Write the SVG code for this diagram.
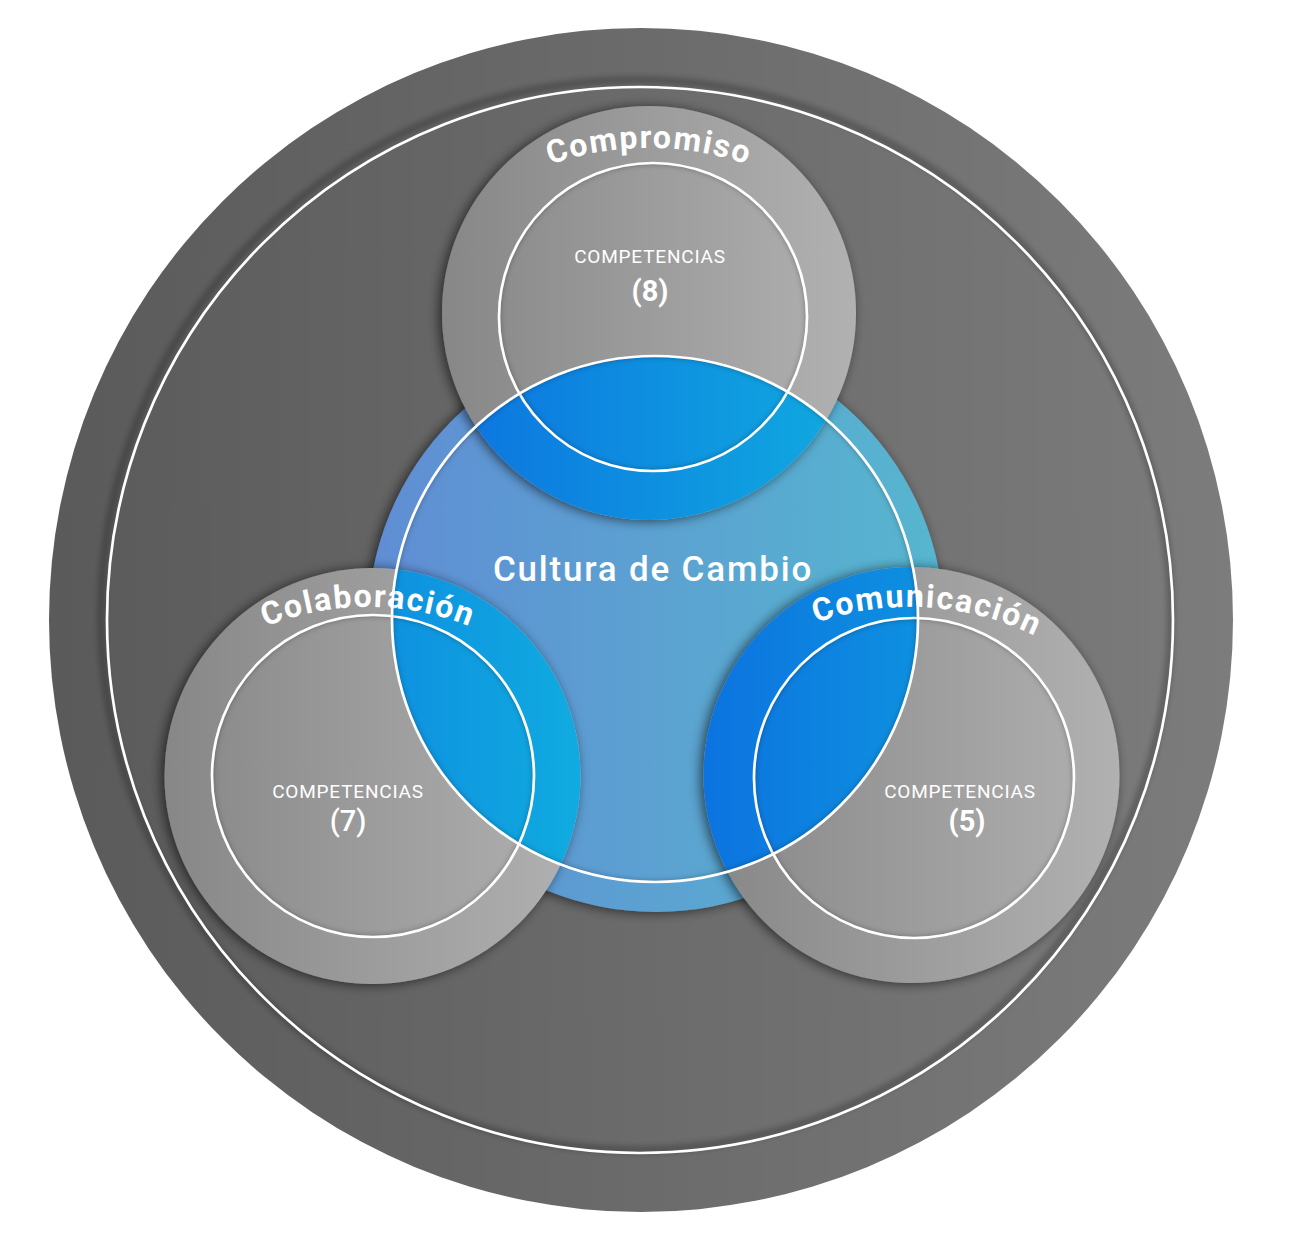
<svg xmlns="http://www.w3.org/2000/svg" xmlns:xlink="http://www.w3.org/1999/xlink" width="1291" height="1243" viewBox="0 0 1291 1243">
<style>
.lbl{font-family:Roboto,"Liberation Sans",Arial,sans-serif;fill:#fff}
.arc{font-size:32px;font-weight:700;letter-spacing:1.7px}
.comp{font-size:19px;font-weight:400;letter-spacing:0.8px}
.num{font-size:29px}
.ring{fill:none;stroke:#fff;stroke-width:2.7}
.ishadow{fill:none;stroke:#000;stroke-opacity:0.35;stroke-width:7;filter:url(#blur)}
.gray{fill:url(#gGray);filter:url(#drop)}
.bright{fill:url(#gBright)}
</style>
<defs>
<linearGradient id="gOuter" x1="0" y1="0" x2="1" y2="0"><stop offset="0" stop-color="#5a5a5a"/><stop offset="1" stop-color="#7c7c7c"/></linearGradient>
<linearGradient id="gBlue" x1="0" y1="0" x2="1" y2="0"><stop offset="0" stop-color="#5f8dd4"/><stop offset="1" stop-color="#57b6cf"/></linearGradient>
<linearGradient id="gGray" x1="0" y1="0" x2="1" y2="0"><stop offset="0" stop-color="#878787"/><stop offset="1" stop-color="#b2b1b1"/></linearGradient>
<linearGradient id="gBright" x1="0" y1="0" x2="1" y2="0"><stop offset="0" stop-color="#0c73e0"/><stop offset="1" stop-color="#10abe0"/></linearGradient>
<filter id="drop" x="-20%" y="-20%" width="140%" height="140%"><feDropShadow dx="-3" dy="1" stdDeviation="6" flood-color="#000" flood-opacity="0.6"/></filter>
<filter id="blur" x="-10%" y="-10%" width="120%" height="120%"><feGaussianBlur stdDeviation="3"/></filter>
<clipPath id="cRing"><circle cx="655" cy="619" r="263"/></clipPath>
<clipPath id="cTop"><circle cx="653" cy="317" r="154"/></clipPath>
<clipPath id="cLeft"><circle cx="373" cy="776" r="161"/></clipPath>
<clipPath id="cRight"><circle cx="914" cy="778" r="160"/></clipPath>
<clipPath id="cBig"><circle cx="641" cy="620" r="592"/></clipPath>
<path id="pTop" d="M 389.2 298 A 300 300 0 0 1 908.8 298"/>
<path id="pLeft" d="M 129.8 744.5 A 275 275 0 0 1 606.2 744.5"/>
<path id="pRight" d="M 664 749 A 284 284 0 0 1 1156 749"/>
</defs>

<g id="outer">
<circle cx="641" cy="620" r="592" fill="url(#gOuter)"/>
<circle cx="636" cy="615" r="535" fill="none" stroke="#000" stroke-opacity="0.3" stroke-width="6" filter="url(#blur)" clip-path="url(#cBig)"/>
<circle cx="640" cy="620" r="533" class="ring" stroke-width="2.2"/>
</g>

<g id="cultura-disk">
<circle cx="656" cy="624" r="288" fill="url(#gBlue)" filter="url(#drop)"/>
</g>

<g id="compromiso">
<circle cx="649" cy="313" r="207" class="gray"/>
<circle cx="649" cy="313" r="207" class="bright" clip-path="url(#cRing)"/>
<circle cx="653" cy="317" r="157" class="ishadow" clip-path="url(#cTop)"/>
<circle cx="653" cy="317" r="154" class="ring"/>
<text class="lbl arc"><textPath href="#pTop" xlink:href="#pTop" startOffset="50%" text-anchor="middle">Compromiso</textPath></text>
<text x="650" y="263" class="lbl comp" text-anchor="middle">COMPETENCIAS</text>
<text x="650" y="301" class="lbl num" font-weight="700" text-anchor="middle">(8)</text>
</g>

<g id="colaboracion">
<circle cx="372.5" cy="776" r="208" class="gray"/>
<circle cx="372.5" cy="776" r="208" class="bright" clip-path="url(#cRing)"/>
<circle cx="373" cy="776" r="164" class="ishadow" clip-path="url(#cLeft)"/>
<circle cx="373" cy="776" r="161" class="ring"/>
<text class="lbl arc"><textPath href="#pLeft" xlink:href="#pLeft" startOffset="50%" text-anchor="middle">Colaboración</textPath></text>
<text x="348" y="798" class="lbl comp" text-anchor="middle">COMPETENCIAS</text>
<text x="348" y="831" class="lbl num" font-weight="500" text-anchor="middle">(7)</text>
</g>

<g id="comunicacion">
<circle cx="911.5" cy="775" r="208" class="gray"/>
<circle cx="911.5" cy="775" r="208" class="bright" clip-path="url(#cRing)"/>
<circle cx="914" cy="778" r="163" class="ishadow" clip-path="url(#cRight)"/>
<circle cx="914" cy="778" r="160" class="ring"/>
<text class="lbl arc" transform="rotate(3.5 910 891)"><textPath href="#pRight" xlink:href="#pRight" startOffset="50%" text-anchor="middle">Comunicación</textPath></text>
<text x="960" y="798" class="lbl comp" text-anchor="middle">COMPETENCIAS</text>
<text x="967" y="831" class="lbl num" font-weight="700" text-anchor="middle">(5)</text>
</g>

<g id="cultura">
<circle cx="655" cy="619" r="266" class="ishadow" clip-path="url(#cRing)"/>
<circle cx="655" cy="619" r="263" class="ring"/>
<text x="653" y="581" class="lbl" font-size="35" font-weight="500" letter-spacing="1.8" text-anchor="middle">Cultura de Cambio</text>
</g>

<g id="connectors"/>
</svg>
